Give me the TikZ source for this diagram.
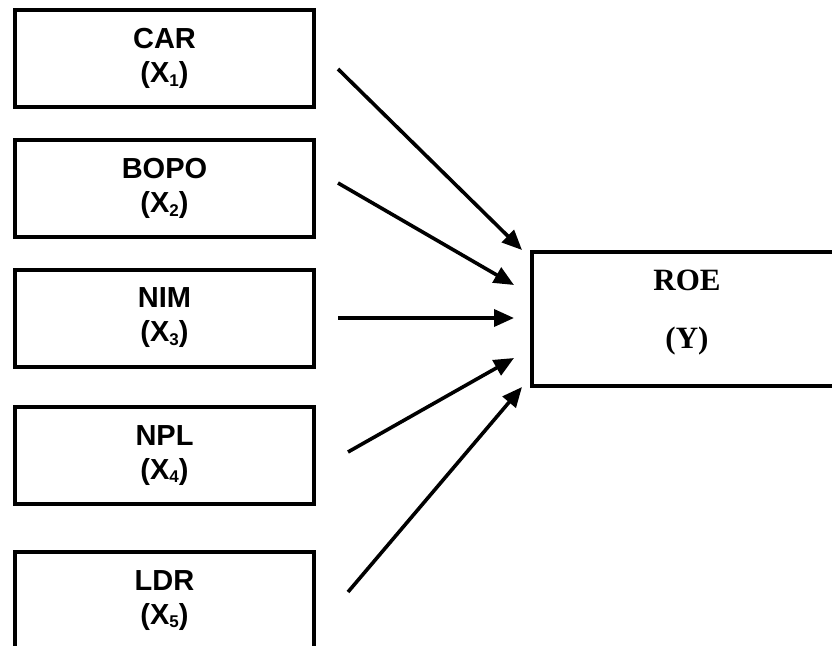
\documentclass[tikz,border=0pt]{standalone}
\usepackage{fontspec}
\setmainfont{Liberation Serif}
\setsansfont{Liberation Sans}
\usetikzlibrary{arrows.meta}
\newcommand\xsub[1]{\raisebox{-3.5pt}{\fontsize{17}{17}\selectfont #1}}
\begin{document}
\begin{tikzpicture}[x=1pt,y=-1pt,
  var/.style={draw, line width=4pt, minimum width=299pt, minimum height=97pt,
    inner sep=0pt, align=center,
    font=\sffamily\bfseries\fontsize{29}{34}\selectfont},
  dep/.style={draw, line width=4pt, minimum width=310pt, minimum height=134pt,
    inner sep=0pt, align=center, text depth=20pt,
    font=\rmfamily\bfseries\fontsize{31}{58}\selectfont},
  arr/.style={line width=3.6pt, -{Triangle[length=20pt,width=17pt]}}]
\useasboundingbox (0,0) rectangle (832,645);
\clip (0,0) rectangle (832,645);

% independent variables
\node[var] (car)  at (164.5,58.5)  {CAR\\(X\xsub{1})};
\node[var] (bopo) at (164.5,188.5) {BOPO\\(X\xsub{2})};
\node[var] (nim)  at (164.5,318)   {NIM\\(X\xsub{3})};
\node[var] (npl)  at (164.5,455.5) {NPL\\(X\xsub{4})};
\node[var] (ldr)  at (164.5,600.5) {LDR\\(X\xsub{5})};

% dependent variable
\node[dep] (roe) at (687,319) {ROE\\(Y)};

% arrow end points
\coordinate (s1) at (338,69);  \coordinate (e1) at (522,250);
\coordinate (s2) at (338,183); \coordinate (e2) at (514,285);
\coordinate (s3) at (338,318); \coordinate (e3) at (514,318);
\coordinate (s4) at (348,452); \coordinate (e4) at (514,358);
\coordinate (s5) at (348,592); \coordinate (e5) at (522,387);

\draw[arr] (s1) -- (e1);
\draw[arr] (s2) -- (e2);
\draw[arr] (s3) -- (e3);
\draw[arr] (s4) -- (e4);
\draw[arr] (s5) -- (e5);
\end{tikzpicture}
\end{document}
